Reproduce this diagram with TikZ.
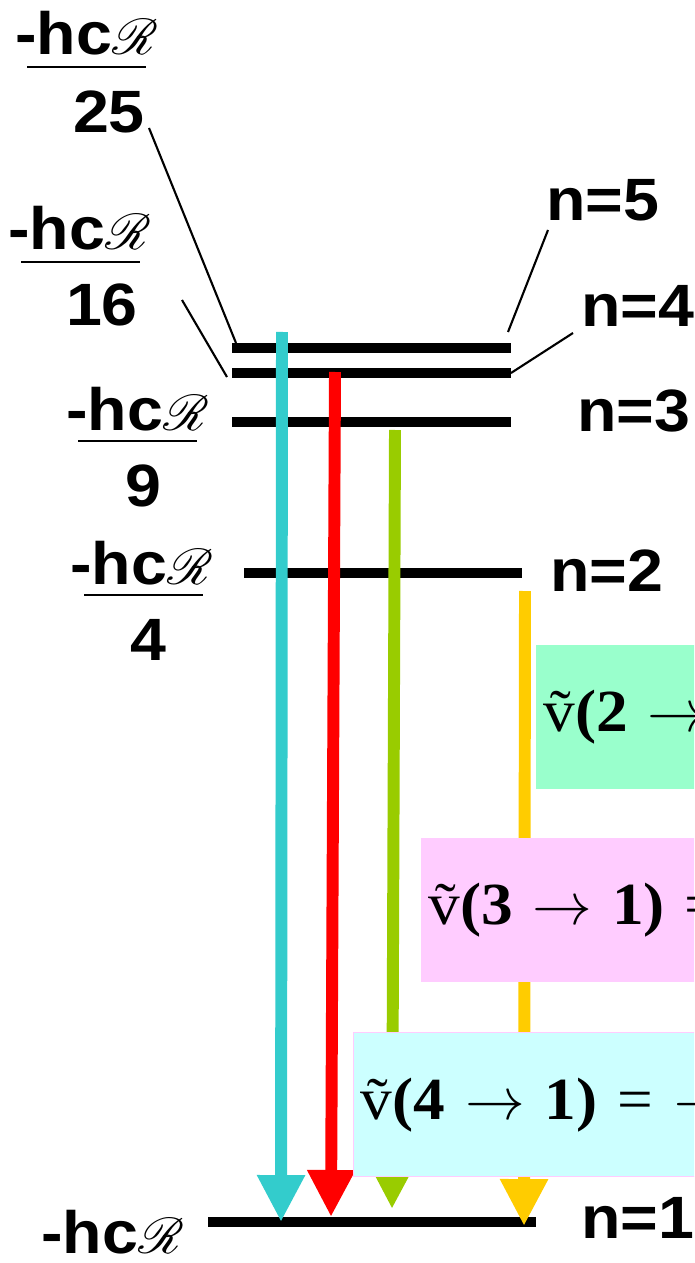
\documentclass[tikz,border=0pt]{standalone}
\usepackage{fix-cm}
\usepackage{fontspec}
\setmainfont[FakeStretch=1.08]{Liberation Sans}
\newfontfamily\serifnum[FakeStretch=1.06]{Liberation Serif}
\usepackage{mathrsfs}
\usetikzlibrary{arrows.meta,positioning}
\definecolor{mycyan}{RGB}{51,204,204}
\definecolor{myred}{RGB}{255,0,0}
\definecolor{mylime}{RGB}{153,204,0}
\definecolor{mygold}{RGB}{255,204,0}
\definecolor{mymint}{RGB}{153,255,204}
\definecolor{mypink}{RGB}{255,204,255}
\definecolor{mysky}{RGB}{204,255,255}
\newcommand{\hcR}{-hc\scalebox{1.15}{$\mathscr{R}$}}

\begin{document}
\begin{tikzpicture}[x=0.02cm,y=-0.02cm,
  big/.style={font=\fontsize{34}{40}\selectfont\bfseries, inner sep=0pt},
  level/.style={line width=5.7pt},
  lead/.style={line width=1.2pt},
  fracbar/.style={line width=1.3pt},
  trans/.style={line width=6.8pt, -{Triangle[width=0.9cm,length=0.94cm]}},
  wbox/.style={anchor=north west, minimum height=2.88cm, inner xsep=0.14cm, align=left,
    font=\fontsize{34}{40}\selectfont\serifnum}]
  \useasboundingbox (0,0) rectangle (694,1263);
  \clip (0,0) rectangle (694,1263);

  % energy levels
  \coordinate (l5w) at (232,348); \coordinate (l5e) at (511,348);
  \coordinate (l4w) at (232,373); \coordinate (l4e) at (511,373);
  \coordinate (l3w) at (232,422); \coordinate (l3e) at (511,422);
  \coordinate (l2w) at (244,573); \coordinate (l2e) at (522,573);
  \coordinate (l1w) at (208,1222); \coordinate (l1e) at (536,1222);
  \draw[level] (l5w) -- (l5e);
  \draw[level] (l4w) -- (l4e);
  \draw[level] (l3w) -- (l3e);
  \draw[level] (l2w) -- (l2e);
  \draw[level] (l1w) -- (l1e);

  % level names
  \node[big] (n5) at (603,200) {n=5};
  \node[big] (n4) at (638,306) {n=4};
  \node[big] (n3) at (634,411) {n=3};
  \node[big] (n2) at (607,571) {n=2};
  \node[big] (n1) at (638,1218) {n=1};

  % energies
  \node[big, anchor=base west] (e25) at (15,55) {\hcR};
  \draw[fracbar] (27,67) -- (146,67);
  \node[big] (d25) at (109,112) {25};
  \node[big, anchor=base west] (e16) at (8,250) {\hcR};
  \draw[fracbar] (21,262) -- (140,262);
  \node[big] (d16) at (102,305) {16};
  \node[big, anchor=base west] (e9) at (66,430) {\hcR};
  \draw[fracbar] (78,441) -- (197,441);
  \node[big] (d9) at (143,486) {9};
  \node[big, anchor=base west] (e4) at (70,584) {\hcR};
  \draw[fracbar] (84,595) -- (203,595);
  \node[big] (d4) at (148,640) {4};
  \node[big, anchor=base west] (e1) at (41,1253) {\hcR};

  % leader lines
  \coordinate (k25) at (149,128); \coordinate (k16) at (182,300);
  \coordinate (k5) at (548,230);  \coordinate (k4) at (573,333);
  \draw[lead] (k25) -- (236,343);
  \draw[lead] (k16) -- (227,377);
  \draw[lead] (k5) -- (508,332);
  \draw[lead] (k4) -- (l4e);

  % transitions
  \coordinate (c5) at (282,332); \coordinate (c1) at (281,1222);
  \coordinate (r4) at (335,372); \coordinate (r1) at (331,1217);
  \coordinate (g3) at (395,430); \coordinate (g1) at (392,1209);
  \coordinate (y2) at (525,591); \coordinate (y1) at (524,1226);
  \draw[trans, mycyan] (c5) -- (c1);
  \draw[trans, myred] (r4) -- (r1);
  \draw[trans, mylime] (g3) -- (g1);
  \draw[trans, mygold] (y2) -- (y1);

  % wavenumbers
  \node[wbox, fill=mymint, text width=4cm] (nu21) at (536,645) {\~{v}\textbf{(2} $\rightarrow$};
  \node[wbox, fill=mypink, text width=6cm] (nu31) at (421,838) {\~{v}\textbf{(3} $\rightarrow$ \textbf{1)} =};
  \node[wbox, fill=mysky, draw=mypink, line width=0.8pt, text width=7.5cm] (nu41) at (353,1032) {\~{v}\textbf{(4} $\rightarrow$ \textbf{1)} = $-$};
\end{tikzpicture}
\end{document}
